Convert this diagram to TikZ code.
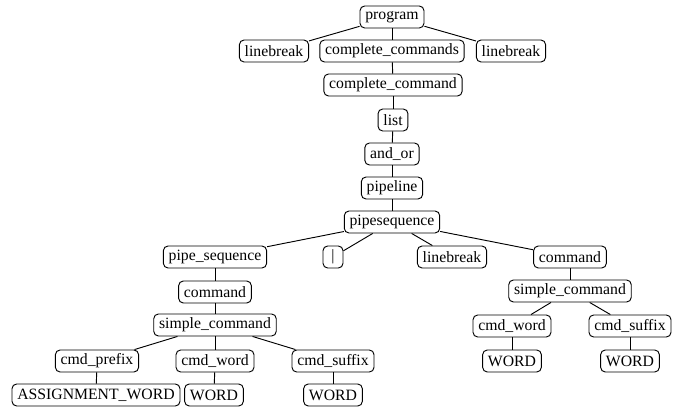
\documentclass[tikz,border=0pt]{standalone}
\usepackage{fontspec}
\setmainfont{Liberation Serif}

\begin{document}
\begin{tikzpicture}[
            x = 0.75pt, y = -0.75pt, % pixel grid of the reference
            line width = 0.7pt, % line style
            font = \fontsize{11.8}{13}\selectfont
        ]

        \tikzstyle{tok}=[
            draw = black,
            rounded corners = 3.5pt,
            inner xsep = 4pt,
            inner ysep = 0pt,
            minimum height = 16.5pt
        ]

        \useasboundingbox (0,0) rectangle (678,409);

        \node[tok] (prog) at (392,17) {program};
        \node[tok] (lbl) at (274,51) {linebreak};
        \node[tok] (ccs) at (392,51) {complete\_commands};
        \node[tok] (lbr) at (511,51) {linebreak};
        \node[tok] (cc) at (393,85) {complete\_command};
        \node[tok] (list) at (393,120) {list};
        \node[tok] (andor) at (392,154) {and\_or};
        \node[tok] (pline) at (392,188) {pipeline};
        \node[tok] (pseq) at (392,222) {pipesequence};

        \node[tok] (pseql) at (215,257) {pipe\_sequence};
        \node[tok, minimum width = 15pt] (bar) at (333,257) {|};
        \node[tok] (lbm) at (452,257) {linebreak};
        \node[tok] (cmdr) at (570,257) {command};

        % left branch
        \node[tok] (cmdl) at (215,292) {command};
        \node[tok] (scl) at (215,325) {simple\_command};
        \node[tok] (pre) at (97,361) {cmd\_prefix};
        \node[tok] (cwl) at (215,361) {cmd\_word};
        \node[tok] (csl) at (333,361) {cmd\_suffix};
        \node[tok] (asw) at (96,395) {ASSIGNMENT\_WORD};
        \node[tok] (wl) at (214,395) {WORD};
        \node[tok] (wm) at (333,395) {WORD};

        % right branch
        \node[tok] (scr) at (570,291) {simple\_command};
        \node[tok] (cwr) at (512,326) {cmd\_word};
        \node[tok] (csr) at (630,326) {cmd\_suffix};
        \node[tok] (wr1) at (512,361) {WORD};
        \node[tok] (wr2) at (630,361) {WORD};

        \path (prog) edge (lbl);
        \path (prog) edge (ccs);
        \path (prog) edge (lbr);
        \path (ccs) edge (cc);
        \path (cc) edge (list);
        \path (list) edge (andor);
        \path (andor) edge (pline);
        \path (pline) edge (pseq);
        \path (pseq) edge (pseql);
        \path (pseq) edge (bar);
        \path (pseq) edge (lbm);
        \path (pseq) edge (cmdr);
        \path (pseql) edge (cmdl);
        \path (cmdl) edge (scl);
        \path (scl) edge (pre);
        \path (scl) edge (cwl);
        \path (scl) edge (csl);
        \path (pre) edge (asw);
        \path (cwl) edge (wl);
        \path (csl) edge (wm);
        \path (cmdr) edge (scr);
        \path (scr) edge (cwr);
        \path (scr) edge (csr);
        \path (cwr) edge (wr1);
        \path (csr) edge (wr2);

    \end{tikzpicture}
\end{document}
